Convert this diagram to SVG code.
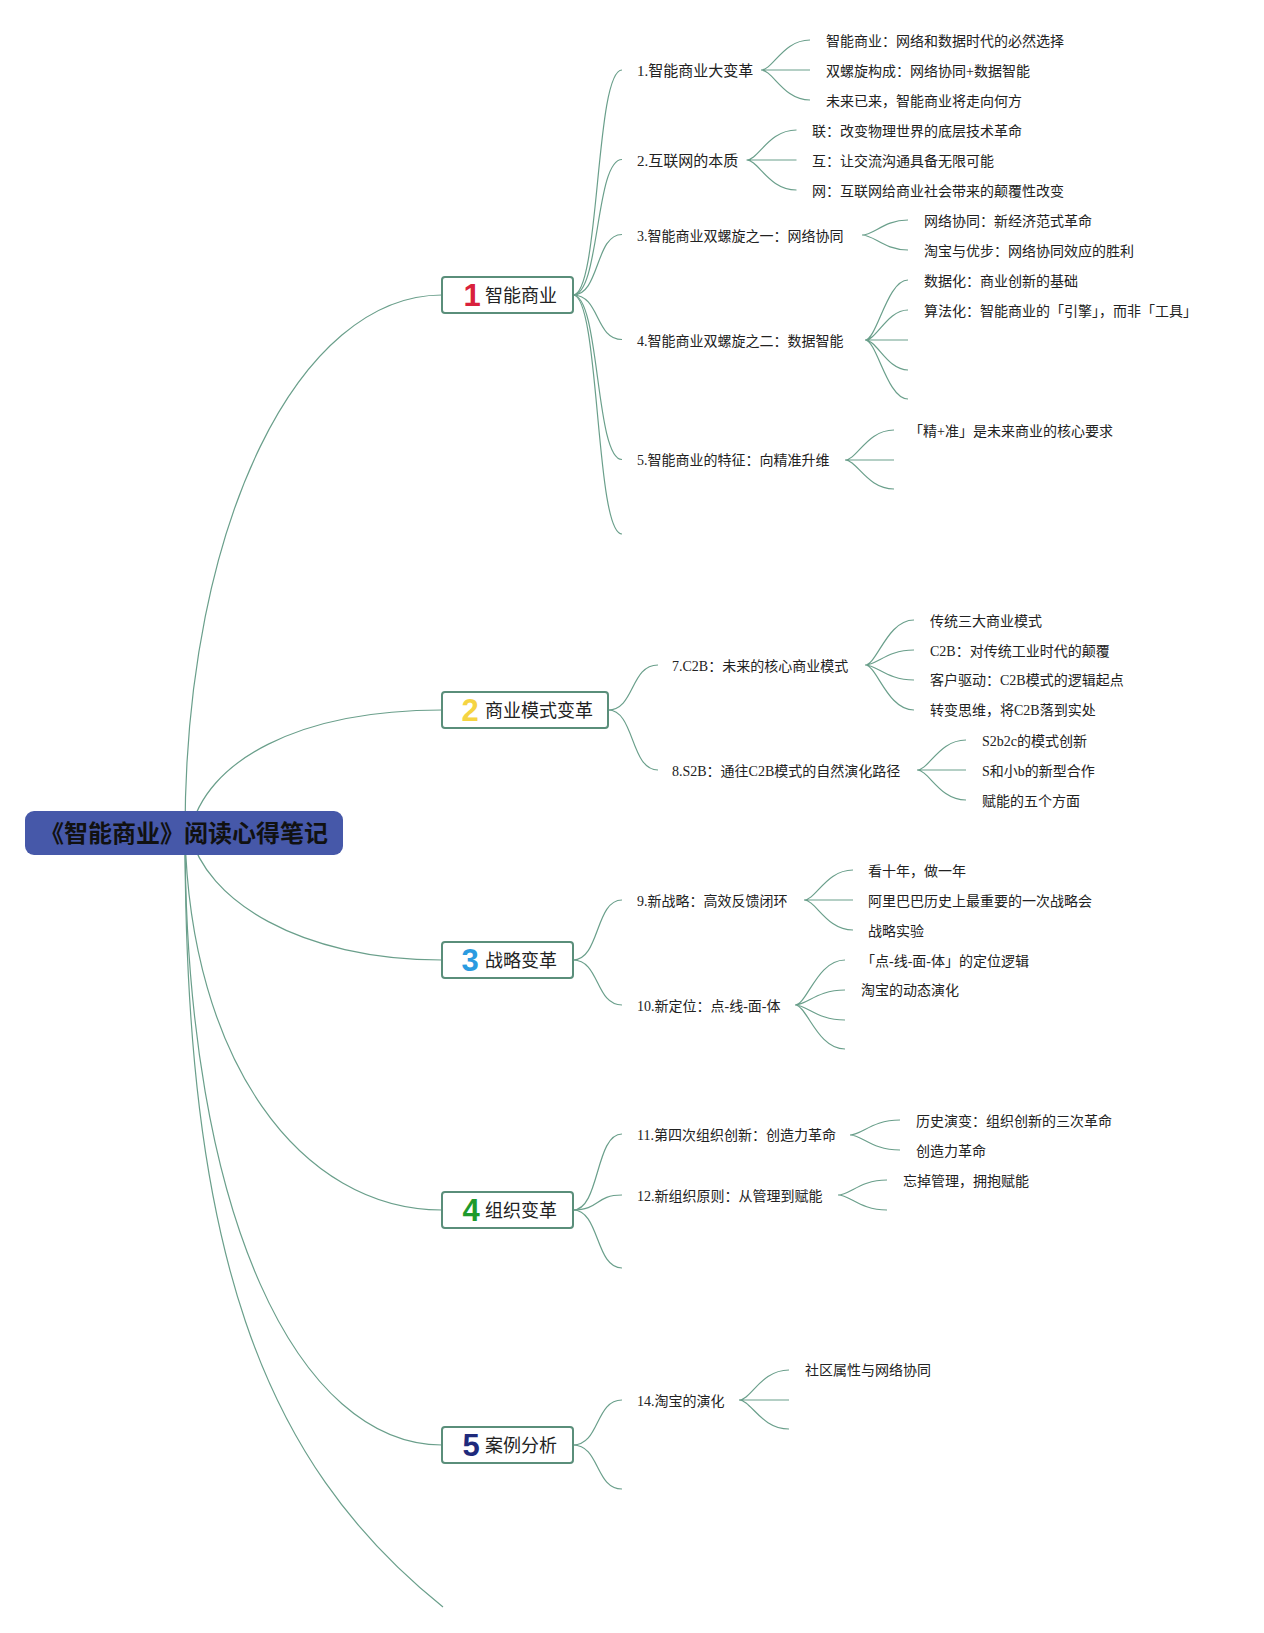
<svg xmlns="http://www.w3.org/2000/svg" width="1264" height="1633" viewBox="0 0 1264 1633">
<style>
.c{fill:none;stroke:#6a9f8b;stroke-width:1.2}
.t{font-family:"Liberation Serif","Noto Sans CJK SC",serif;font-size:14px;fill:#222}
.t16{font-size:15px}
.box{fill:#fff;stroke:#5a8e7a;stroke-width:2}
.num{font-family:"Liberation Sans","DejaVu Sans",sans-serif;font-weight:bold;font-size:31px;text-anchor:middle}
.mt{font-family:"Noto Sans CJK SC",sans-serif;font-size:18px;fill:#222}
</style>
<rect width="1264" height="1633" fill="#fff"/>
<g id="connectors">
<path class="c" d="M185,833 C185,520 300,295 442,295"/>
<path class="c" d="M190,833 C205,760 300,710 442,710"/>
<path class="c" d="M190,833 C205,900 300,960 442,960"/>
<path class="c" d="M185,833 C190,1060 300,1210 442,1210"/>
<path class="c" d="M185,833 C185,1220 300,1445 442,1445"/>
<path class="c" d="M185,833 C185,1250 260,1460 443,1607"/>
<path class="c" d="M573,295 C600,295 595,70 622,70"/>
<path class="c" d="M573,295 C600,295 595,159.5 622,159.5"/>
<path class="c" d="M573,295 C600,295 595,234.5 622,234.5"/>
<path class="c" d="M573,295 C600,295 595,339.5 622,339.5"/>
<path class="c" d="M573,295 C600,295 595,459.5 622,459.5"/>
<path class="c" d="M573,295 C600,295 595,534 622,534"/>
<path class="c" d="M608,710 C635,710 630,665 658,665"/>
<path class="c" d="M608,710 C635,710 630,770 658,770"/>
<path class="c" d="M573,960 C600,960 595,900 622,900"/>
<path class="c" d="M573,960 C600,960 595,1005 622,1005"/>
<path class="c" d="M573,1210 C600,1210 595,1134 622,1134"/>
<path class="c" d="M573,1210 C600,1210 595,1195 622,1195"/>
<path class="c" d="M573,1210 C600,1210 595,1268 622,1268"/>
<path class="c" d="M573,1445 C600,1445 595,1400 622,1400"/>
<path class="c" d="M573,1445 C600,1445 595,1489 622,1489"/>
<path class="c" d="M761,70 C773,70 783,40 810,40 M761,70 L810,70 M761,70 C773,70 783,100 810,100"/>
<path class="c" d="M746.5,160 C758.5,160 768.5,130 796.5,130 M746.5,160 L796.5,160 M746.5,160 C758.5,160 768.5,190 796.5,190"/>
<path class="c" d="M862,235 C874,235 884,220 908,220 M862,235 C874,235 884,250 908,250"/>
<path class="c" d="M865,340 C877,340 887,280 908,280 M865,340 C877,340 887,310 908,310 M865,340 L908,340 M865,340 C877,340 887,370 908,370 M865,340 C877,340 887,399 908,399"/>
<path class="c" d="M845,460 C857,460 867,430 894,430 M845,460 L894,460 M845,460 C857,460 867,489 894,489"/>
<path class="c" d="M865,665 C877,665 887,620 914,620 M865,665 C877,665 887,650 914,650 M865,665 C877,665 887,680 914,680 M865,665 C877,665 887,710 914,710"/>
<path class="c" d="M917,770 C929,770 939,740 966,740 M917,770 L966,770 M917,770 C929,770 939,800 966,800"/>
<path class="c" d="M804,900 C816,900 826,870 853,870 M804,900 L853,900 M804,900 C816,900 826,930 853,930"/>
<path class="c" d="M795,1005 C807,1005 817,960 845,960 M795,1005 C807,1005 817,990 845,990 M795,1005 C807,1005 817,1020 845,1020 M795,1005 C807,1005 817,1049 845,1049"/>
<path class="c" d="M850,1135 C862,1135 872,1120 900,1120 M850,1135 C862,1135 872,1150 900,1150"/>
<path class="c" d="M838,1195 C850,1195 860,1180 887,1180 M838,1195 C850,1195 860,1210 887,1210"/>
<path class="c" d="M739,1400 C751,1400 761,1370 789,1370 M739,1400 L789,1400 M739,1400 C751,1400 761,1429 789,1429"/>
</g>
<g id="root">
<rect x="25" y="811" width="318" height="44" rx="9" fill="#4658a9"/>
<text x="184" y="841.5" text-anchor="middle" font-family="'Noto Sans CJK SC',sans-serif" font-size="24" font-weight="bold" fill="#111">《智能商业》阅读心得笔记</text>
</g>
<g id="n1">
<rect class="box" x="442" y="277" width="131" height="36" rx="3"/>
<text class="num" x="472" y="306" fill="#d9213c">1</text>
<text class="mt" x="485" y="301.5">智能商业</text>
</g>
<g id="n2">
<rect class="box" x="442" y="692" width="166" height="36" rx="3"/>
<text class="num" x="470" y="721" fill="#f5d442">2</text>
<text class="mt" x="485" y="716.5">商业模式变革</text>
</g>
<g id="n3">
<rect class="box" x="442" y="942" width="131" height="36" rx="3"/>
<text class="num" x="470" y="971" fill="#2b9be0">3</text>
<text class="mt" x="485" y="966.5">战略变革</text>
</g>
<g id="n4">
<rect class="box" x="442" y="1192" width="131" height="36" rx="3"/>
<text class="num" x="471" y="1221" fill="#1e9a2c">4</text>
<text class="mt" x="485" y="1216.5">组织变革</text>
</g>
<g id="n5">
<rect class="box" x="442" y="1427" width="131" height="36" rx="3"/>
<text class="num" x="471" y="1456" fill="#1f2a7c">5</text>
<text class="mt" x="485" y="1451.5">案例分析</text>
</g>
<g id="sub1"><text class="t t16" x="637" y="76">1.智能商业大变革</text></g>
<g id="sub2"><text class="t t16" x="637" y="165.5">2.互联网的本质</text></g>
<g id="sub3"><text class="t" x="637" y="240.5">3.智能商业双螺旋之一：网络协同</text></g>
<g id="sub4"><text class="t" x="637" y="345.5">4.智能商业双螺旋之二：数据智能</text></g>
<g id="sub5"><text class="t" x="637" y="465">5.智能商业的特征：向精准升维</text></g>
<g id="sub7"><text class="t" x="672" y="670.5">7.C2B：未来的核心商业模式</text></g>
<g id="sub8"><text class="t" x="672" y="775.5">8.S2B：通往C2B模式的自然演化路径</text></g>
<g id="sub9"><text class="t" x="637" y="905.5">9.新战略：高效反馈闭环</text></g>
<g id="sub10"><text class="t" x="637" y="1010.5">10.新定位：点-线-面-体</text></g>
<g id="sub11"><text class="t" x="637" y="1140">11.第四次组织创新：创造力革命</text></g>
<g id="sub12"><text class="t" x="637" y="1200.5">12.新组织原则：从管理到赋能</text></g>
<g id="sub14"><text class="t" x="637" y="1405.5">14.淘宝的演化</text></g>
<g id="leaves">
<text class="t" x="826" y="45.5">智能商业：网络和数据时代的必然选择</text>
<text class="t" x="826" y="76">双螺旋构成：网络协同+数据智能</text>
<text class="t" x="826" y="106">未来已来，智能商业将走向何方</text>
<text class="t" x="812" y="136">联：改变物理世界的底层技术革命</text>
<text class="t" x="812" y="166">互：让交流沟通具备无限可能</text>
<text class="t" x="812" y="195.5">网：互联网给商业社会带来的颠覆性改变</text>
<text class="t" x="924" y="225.5">网络协同：新经济范式革命</text>
<text class="t" x="924" y="256">淘宝与优步：网络协同效应的胜利</text>
<text class="t" x="924" y="286">数据化：商业创新的基础</text>
<text class="t" x="924" y="316">算法化：智能商业的「引擎」，而非「工具」</text>
<text class="t" x="909" y="436">「精+准」是未来商业的核心要求</text>
<text class="t" x="930" y="625.5">传统三大商业模式</text>
<text class="t" x="930" y="655.5">C2B：对传统工业时代的颠覆</text>
<text class="t" x="930" y="685">客户驱动：C2B模式的逻辑起点</text>
<text class="t" x="930" y="715">转变思维，将C2B落到实处</text>
<text class="t" x="982" y="745.5">S2b2c的模式创新</text>
<text class="t" x="982" y="775.5">S和小b的新型合作</text>
<text class="t" x="982" y="805.5">赋能的五个方面</text>
<text class="t" x="868" y="875.5">看十年，做一年</text>
<text class="t" x="868" y="905.5">阿里巴巴历史上最重要的一次战略会</text>
<text class="t" x="868" y="935.5">战略实验</text>
<text class="t" x="861" y="966">「点-线-面-体」的定位逻辑</text>
<text class="t" x="861" y="995">淘宝的动态演化</text>
<text class="t" x="916" y="1125.5">历史演变：组织创新的三次革命</text>
<text class="t" x="916" y="1155.5">创造力革命</text>
<text class="t" x="903" y="1185.5">忘掉管理，拥抱赋能</text>
<text class="t" x="805" y="1375">社区属性与网络协同</text>
</g>
</svg>
